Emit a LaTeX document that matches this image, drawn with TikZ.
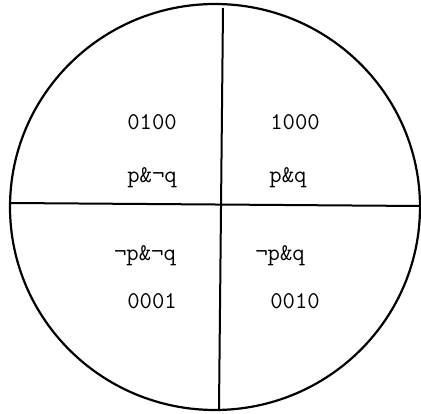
\documentclass[tikz,border=0pt]{standalone}
\usepackage{fontspec}
\usetikzlibrary{positioning}

\begin{document}
\begin{tikzpicture}[
    x=1pt, y=-1pt,
    rim/.style={draw, line width=2.2pt},
    cut/.style={draw, line width=2pt},
    cell/.style={font=\ttfamily\fontsize{24}{28}\selectfont, inner sep=0pt, anchor=base},
  ]
  \useasboundingbox (0,0) rectangle (421,414);

  % -- disk and its two cuts --
  \coordinate (centre) at (215,207);
  \draw[rim] (centre) ellipse [x radius=205, y radius=203];
  \coordinate (top) at (223,8);
  \coordinate (bottom) at (219,409);
  \coordinate (left) at (10,203);
  \coordinate (right) at (420,206);
  \draw[cut] (top) -- (bottom);
  \draw[cut] (left) -- (right);

  % -- upper half --
  \node[cell] at (152,130) (codeTL) {0100};
  \node[cell] at (295,130) (codeTR) {1000};
  \node[cell] at (152,183) (formTL) {p\&¬q};
  \node[cell] at (288,183) (formTR) {p\&q};

  % -- lower half --
  \node[cell] at (145,261) (formBL) {¬p\&¬q};
  \node[cell] at (280,261) (formBR) {¬p\&q};
  \node[cell] at (152,309) (codeBL) {0001};
  \node[cell] at (295,309) (codeBR) {0010};
\end{tikzpicture}
\end{document}
